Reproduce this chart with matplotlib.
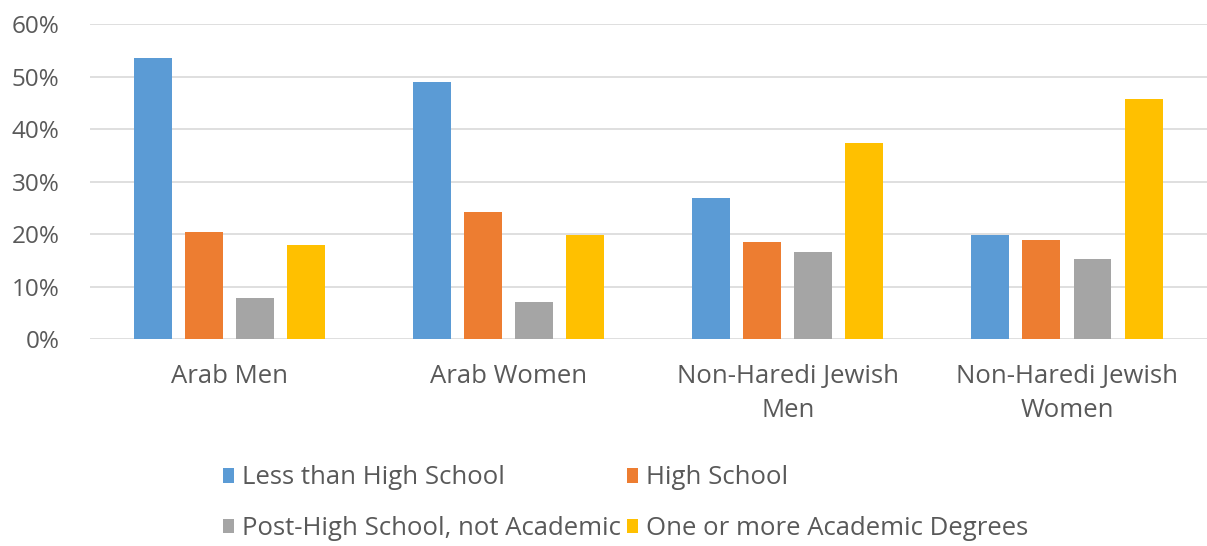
import matplotlib
matplotlib.use("Agg")
import matplotlib.pyplot as plt
from matplotlib.ticker import PercentFormatter
import numpy as np

plt.rcParams.update({
    "font.family": ["Open Sans", "DejaVu Sans"],
    "text.color": "#595959",
    "xtick.color": "#595959",
    "ytick.color": "#595959",
})

GROUPS = ["Arab Men", "Arab Women", "Non-Haredi Jewish\nMen", "Non-Haredi Jewish\nWomen"]
SERIES = ["Less than High School", "High School",
          "Post-High School, not Academic", "One or more Academic Degrees"]
COLORS = ["#5B9BD5", "#ED7D31", "#A5A5A5", "#FFC000"]

less_than_hs = [53.5, 49.0, 26.8, 19.8]
high_school = [20.3, 24.2, 18.5, 18.9]
post_hs = [7.9, 7.0, 16.6, 15.2]
academic = [18.0, 19.8, 37.4, 45.7]
values = [less_than_hs, high_school, post_hs, academic]

fig = plt.figure(figsize=(12.07, 5.46), dpi=100)
ax = fig.add_axes([0.0746, 0.379, 0.925, 0.577])

x = np.arange(len(GROUPS))
step = 0.183
width = 0.136
bars = []
for k, (name, vals, c) in enumerate(zip(SERIES, values, COLORS)):
    bars.append(ax.bar(x + (k - 1.5) * step, vals, width, color=c, label=name, zorder=3))

ax.set_xlim(-0.5, len(GROUPS) - 0.5)
ax.set_ylim(0, 60)
ax.set_yticks(range(0, 61, 10))
ax.yaxis.set_major_formatter(PercentFormatter(decimals=0))
ax.set_xticks(x)
ax.set_xticklabels(GROUPS, linespacing=1.45, fontsize=18.5)
ax.tick_params(axis="y", labelsize=17.5)
ax.tick_params(axis="both", length=0)
ax.tick_params(axis="x", pad=18)
ax.tick_params(axis="y", pad=22)
ax.grid(axis="y", color="#D9D9D9", lw=1.2, zorder=0)
for s in ax.spines.values():
    s.set_visible(False)

# legend filled row by row, like the original
order = [0, 2, 1, 3]
fig.legend([bars[i] for i in order], [SERIES[i] for i in order],
           loc="upper left", bbox_to_anchor=(0.166, 0.19), ncol=2, frameon=False,
           fontsize=18.5, handlelength=0.42, handleheight=0.5, handletextpad=0.3,
           columnspacing=0.25, labelspacing=1.0)

fig.savefig("out.png")
